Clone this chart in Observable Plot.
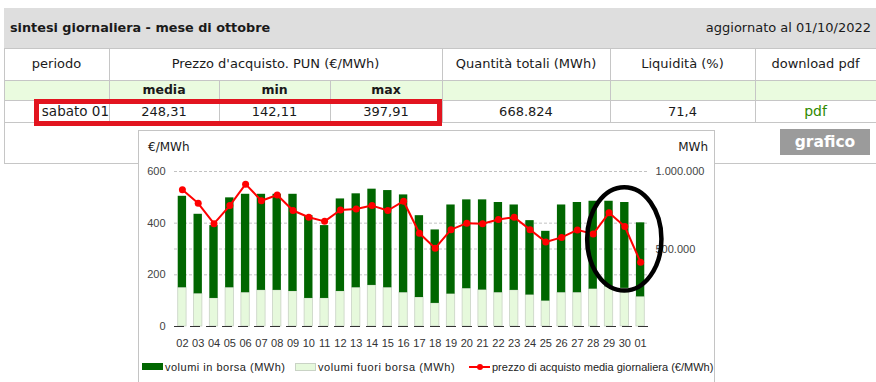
<!DOCTYPE html>
<html><head><meta charset="utf-8">
<script src="https://cdn.jsdelivr.net/npm/d3@7"></script>
<script src="https://cdn.jsdelivr.net/npm/@observablehq/plot@0.6"></script>
<style>
html,body{margin:0;padding:0}
body{width:876px;height:382px;overflow:hidden;background:#fff;font-family:"DejaVu Sans",Verdana,sans-serif;font-size:13px;color:#1a1a1a;position:relative}
.a{position:absolute;white-space:nowrap}
.hl{position:absolute;height:1px;background:#c6c6c6}
.vl{position:absolute;width:1px;background:#c6c6c6}
.c{position:absolute;text-align:center;white-space:nowrap}
.b{font-weight:bold}
.leg{position:absolute;font-family:"Liberation Sans",Arial,sans-serif;font-size:11px;color:#222;white-space:nowrap;line-height:14px}
</style></head><body>
<div id="page"></div>
<script>
// ---------- table content ----------
const titolo = "sintesi giornaliera - mese di ottobre";
const aggiornato = "aggiornato al 01/10/2022";
const intestazioni = ["periodo", "Prezzo d'acquisto. PUN (€/MWh)", "Quantità totali (MWh)", "Liquidità (%)", "download pdf"];
const sottoIntestazioni = ["media", "min", "max"];
const rigaDati = ["sabato 01", "248,31", "142,11", "397,91", "668.824", "71,4", "pdf"];

// ---------- chart data ----------
const giorni = ["02","03","04","05","06","07","08","09","10","11","12","13","14","15","16","17","18","19","20","21","22","23","24","25","26","27","28","29","30","01"];
const prezzoMedio = [529,477,398,468,551,487,509,449,423,407,451,455,468,449,485,361,303,375,400,398,414,423,375,327,345,374,358,440,387,248.31];
const volumiInBorsa = [590000,513000,470000,580000,635000,620000,620000,627000,534000,470000,597000,606000,621000,627000,631000,528000,474000,575000,573000,582000,582000,551000,480000,450000,566000,582000,567000,552000,554000,477540];
const volumiFuoriBorsa = [250000,211000,181000,250000,218000,233000,233000,226000,181000,181000,226000,250000,265000,250000,218000,187000,149000,209000,244000,235000,218000,233000,203000,164000,218000,218000,241000,256000,246000,191284];
const tickPrezzo = [0,200,400,600];
const tickMWh = [500000,1000000];
const PREZZO_MAX = 600, MWH_MAX = 1000000;
const legenda = ["volumi in borsa (MWh)", "volumi fuori borsa (MWh)", "prezzo di acquisto media giornaliera (€/MWh)"];
// annotation ellipse (data units)
const ellisse = {giorno: "30", prezzo: 337, semiAsseGiorni: 2.35, semiAssePrezzo: 200};

const page = document.getElementById("page");
function el(cls, css, html) {
  const d = document.createElement("div");
  d.className = cls; d.style.cssText = css; if (html != null) d.innerHTML = html;
  page.appendChild(d); return d;
}
// header bar
el("a", "left:4px;top:8px;width:872px;height:40px;background:#dedede");
el("a b", "left:10px;top:8px;height:40px;line-height:40px;font-size:12.8px", titolo);
el("a", "right:5px;top:8px;height:40px;line-height:40px", aggiornato);
// sub header background
el("a", "left:4px;top:80px;width:872px;height:20px;background:#eafbdf");
// lines
const hls = [[4,876,48],[4,876,80],[4,876,100],[4,876,122],[4,876,163]];
hls.forEach(([x1,x2,y]) => el("hl", `left:${x1}px;width:${x2-x1}px;top:${y}px`));
const vls = [[4,48,163],[109,48,122],[219,80,122],[330,80,122],[442,48,122],[610,48,122],[755,48,122]];
vls.forEach(([x,y1,y2]) => el("vl", `left:${x}px;top:${y1}px;height:${y2-y1}px`));
// header cells
const colH = [[4,109],[109,442],[442,610],[610,755],[755,876]];
intestazioni.forEach((t,i) => el("c", `left:${colH[i][0]}px;width:${colH[i][1]-colH[i][0]}px;top:48px;height:32px;line-height:31px`, t));
const colS = [[109,219],[219,330],[330,442]];
sottoIntestazioni.forEach((t,i) => el("c b", `left:${colS[i][0]}px;width:${colS[i][1]-colS[i][0]}px;top:80px;height:20px;line-height:20px;font-size:12.5px`, t));
const colD = [[4,109],[109,219],[219,330],[330,442],[442,610],[610,755],[755,876]];
rigaDati.forEach((t,i) => {
  const st = `left:${colD[i][0]}px;width:${colD[i][1]-colD[i][0]}px;top:100px;height:22px;line-height:23px;`;
  if (i === 0) el("c", st + "text-align:right;padding-right:0px;box-sizing:border-box;font-size:13.5px", t);
  else if (i === 6) el("c", st + "color:#2f8a00;font-size:14px", t);
  else el("c", st, t);
});
// red highlight
el("a", "left:34px;top:99px;width:408px;height:27px;border:5px solid #e2141f;box-sizing:border-box");
// grafico button
el("c b", "left:780px;top:129px;width:90px;height:26px;line-height:26px;background:#9b9b9b;color:#fff;font-size:15.5px", "grafico");

// chart box
const box = el("a", "left:138px;top:130px;width:577px;height:270px;background:#fff;border:1px solid #c4c4c4;box-sizing:border-box");
const inner = document.createElement("div");
inner.style.cssText = "position:absolute;left:-1px;top:-1px;width:577px;height:270px";
box.appendChild(inner);
function iel(cls, css, html) {
  const d = document.createElement("div");
  d.className = cls; d.style.cssText = css; if (html != null) d.innerHTML = html;
  inner.appendChild(d); return d;
}
iel("a", "left:10px;top:10px;line-height:14px;font-size:12px", "€/MWh");
iel("a", "right:7px;top:10px;line-height:14px;font-size:12px", "MWh");

const dati = giorni.map((g,i) => ({giorno:g, prezzo:prezzoMedio[i], borsa:volumiInBorsa[i], fuori:volumiFuoriBorsa[i]}));
const toAsse = v => v * PREZZO_MAX / MWH_MAX;
const fmtIt = d3.formatLocale({decimal:",", thousands:".", grouping:[3], currency:["","€"]}).format(",.0f");

function ellisseMark(index, scales) {
  const x = scales.x, y = scales.y;
  const bw = x.bandwidth ? x.bandwidth() : 0;
  const step = x.step ? x.step() : bw;
  const cx = x(ellisse.giorno) + bw / 2;
  const cy = y(ellisse.prezzo);
  const ry = Math.abs(y(ellisse.prezzo + ellisse.semiAssePrezzo) - cy);
  const e = d3.create("svg:ellipse")
    .attr("cx", cx).attr("cy", cy)
    .attr("rx", ellisse.semiAsseGiorni * step).attr("ry", ry)
    .attr("fill", "none").attr("stroke", "#000").attr("stroke-width", 4.5);
  return e.node();
}

const chart = Plot.plot({
  width: 577, height: 226,
  marginTop: 41, marginBottom: 30, marginLeft: 36, marginRight: 67,
  style: {fontFamily: "'Liberation Sans', Arial, sans-serif", fontSize: "11px", color: "#333", background: "transparent", overflow: "visible"},
  x: {domain: giorni, paddingInner: 0.47, paddingOuter: 0.235, round: false, tickSize: 0, tickPadding: 13, label: null},
  y: {domain: [0, PREZZO_MAX], axis: null},
  marks: [
    Plot.ruleY([...tickPrezzo.filter(v => v > 0), ...tickMWh.map(toAsse)], {stroke: "#c2c2c2", strokeDasharray: "3,2"}),
    Plot.barY(dati, {x: "giorno", y1: 0, y2: d => toAsse(d.fuori), fill: "#e6f9dc", stroke: "#c9d3c5", strokeWidth: 0.8}),
    Plot.barY(dati, {x: "giorno", y1: d => toAsse(d.fuori), y2: d => toAsse(d.fuori + d.borsa), fill: "#006600"}),
    Plot.ruleY([0], {stroke: "#333", strokeDasharray: "10,6"}),
    Plot.line(dati, {x: "giorno", y: "prezzo", stroke: "#ff0000", strokeWidth: 2}),
    Plot.dot(dati, {x: "giorno", y: "prezzo", r: 3.5, fill: "#ff0000"}),
    Plot.text(tickPrezzo, {y: d => d, text: d => String(d), frameAnchor: "left", textAnchor: "end", dx: -9, fill: "#444"}),
    Plot.text(tickMWh, {y: d => toAsse(d), text: d => fmtIt(d), frameAnchor: "right", textAnchor: "start", dx: 7, fill: "#444"}),
    ellisseMark
  ]
});
chart.style.position = "absolute";
chart.style.left = "0px";
chart.style.top = "0px";
inner.appendChild(chart);

// legend
iel("a", "left:4px;top:233px;width:21px;height:7px;background:#006600");
iel("leg", "left:27px;top:230px;letter-spacing:0.5px", legenda[0]);
iel("a", "left:157px;top:233px;width:19px;height:6px;background:#e6f9dc;border:1px solid #c9d3c5");
iel("leg", "left:180px;top:230px;letter-spacing:0.6px", legenda[1]);
iel("a", "left:331px;top:236px;width:21px;height:2px;background:#ff0000");
iel("a", "left:339px;top:234px;width:6px;height:6px;border-radius:50%;background:#ff0000");
iel("leg", "left:354px;top:230px", legenda[2]);
</script>
</body></html>
